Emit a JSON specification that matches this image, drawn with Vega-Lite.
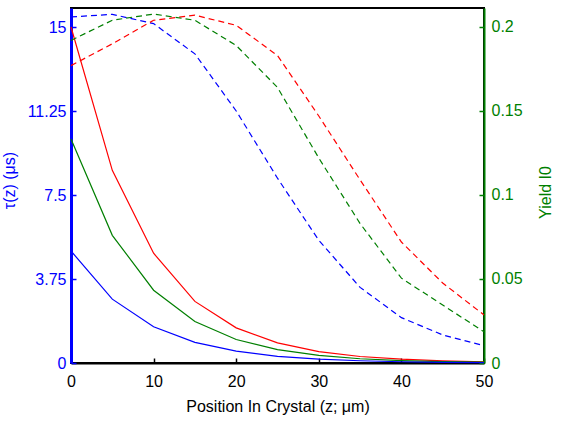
{
  "$schema": "https://vega.github.io/schema/vega-lite/v6.json",
  "autosize": "none",
  "width": 413,
  "height": 355,
  "padding": {"left": 71, "top": 8, "right": 77, "bottom": 59},
  "background": "white",
  "config": {
    "font": "Liberation Sans",
    "view": {"stroke": "black", "strokeWidth": 2},
    "axis": {"grid": false, "labelFontSize": 16, "titleFontSize": 16, "titleFontWeight": "normal", "tickSize": -5, "tickWidth": 1.5, "domainWidth": 2, "labelFlush": false, "labelOverlap": false}
  },
  "datasets": {
    "tau": [
      {"z": 0, "series": "red", "value": 15.0}, {"z": 5, "series": "red", "value": 8.6}, {"z": 10, "series": "red", "value": 4.9}, {"z": 15, "series": "red", "value": 2.75}, {"z": 20, "series": "red", "value": 1.57}, {"z": 25, "series": "red", "value": 0.9}, {"z": 30, "series": "red", "value": 0.51}, {"z": 35, "series": "red", "value": 0.29}, {"z": 40, "series": "red", "value": 0.17}, {"z": 45, "series": "red", "value": 0.095}, {"z": 50, "series": "red", "value": 0.054},
      {"z": 0, "series": "green", "value": 10.0}, {"z": 5, "series": "green", "value": 5.7}, {"z": 10, "series": "green", "value": 3.25}, {"z": 15, "series": "green", "value": 1.85}, {"z": 20, "series": "green", "value": 1.05}, {"z": 25, "series": "green", "value": 0.6}, {"z": 30, "series": "green", "value": 0.34}, {"z": 35, "series": "green", "value": 0.19}, {"z": 40, "series": "green", "value": 0.11}, {"z": 45, "series": "green", "value": 0.06}, {"z": 50, "series": "green", "value": 0.035},
      {"z": 0, "series": "blue", "value": 5.0}, {"z": 5, "series": "blue", "value": 2.85}, {"z": 10, "series": "blue", "value": 1.62}, {"z": 15, "series": "blue", "value": 0.92}, {"z": 20, "series": "blue", "value": 0.53}, {"z": 25, "series": "blue", "value": 0.3}, {"z": 30, "series": "blue", "value": 0.17}, {"z": 35, "series": "blue", "value": 0.1}, {"z": 40, "series": "blue", "value": 0.055}, {"z": 45, "series": "blue", "value": 0.03}, {"z": 50, "series": "blue", "value": 0.018}
    ],
    "yield": [
      {"z": 0, "series": "blue", "value": 0.206}, {"z": 5, "series": "blue", "value": 0.2075}, {"z": 10, "series": "blue", "value": 0.202}, {"z": 15, "series": "blue", "value": 0.184}, {"z": 20, "series": "blue", "value": 0.15}, {"z": 25, "series": "blue", "value": 0.11}, {"z": 30, "series": "blue", "value": 0.073}, {"z": 35, "series": "blue", "value": 0.045}, {"z": 40, "series": "blue", "value": 0.027}, {"z": 45, "series": "blue", "value": 0.0167}, {"z": 50, "series": "blue", "value": 0.0103},
      {"z": 0, "series": "red", "value": 0.177}, {"z": 5, "series": "red", "value": 0.19}, {"z": 10, "series": "red", "value": 0.204}, {"z": 15, "series": "red", "value": 0.207}, {"z": 20, "series": "red", "value": 0.201}, {"z": 25, "series": "red", "value": 0.183}, {"z": 30, "series": "red", "value": 0.147}, {"z": 35, "series": "red", "value": 0.109}, {"z": 40, "series": "red", "value": 0.072}, {"z": 45, "series": "red", "value": 0.0476}, {"z": 50, "series": "red", "value": 0.0286},
      {"z": 0, "series": "green", "value": 0.192}, {"z": 5, "series": "green", "value": 0.204}, {"z": 10, "series": "green", "value": 0.2077}, {"z": 15, "series": "green", "value": 0.204}, {"z": 20, "series": "green", "value": 0.189}, {"z": 25, "series": "green", "value": 0.164}, {"z": 30, "series": "green", "value": 0.122}, {"z": 35, "series": "green", "value": 0.083}, {"z": 40, "series": "green", "value": 0.0505}, {"z": 45, "series": "green", "value": 0.0345}, {"z": 50, "series": "green", "value": 0.0186}
    ]
  },
  "layer": [
    {
      "data": {"name": "tau"},
      "mark": {"type": "line", "strokeWidth": 1.2},
      "encoding": {
        "x": {"field": "z", "type": "quantitative", "scale": {"domain": [0, 50], "nice": false},
          "axis": {"values": [0, 10, 20, 30, 40, 50], "format": "d", "title": "Position In Crystal (z; μm)", "labelColor": "black", "titleColor": "black", "domainColor": "black", "tickColor": "black", "labelPadding": 15, "titlePadding": 9}},
        "y": {"field": "value", "type": "quantitative", "scale": {"domain": [0, 15.85], "nice": false, "zero": true},
          "axis": {"orient": "left", "values": [0, 3.75, 7.5, 11.25, 15], "labelExpr": "datum.value + ''", "title": "τ(z) (μs)", "labelColor": "#0000ff", "titleColor": "#0000ff", "domainColor": "#0000ff", "tickColor": "#0000ff", "domainWidth": 3, "labelPadding": 10, "titleX": -62, "titleY": 172, "titleAngle": -90, "titleAlign": "center", "titleBaseline": "middle"}},
        "color": {"field": "series", "type": "nominal", "scale": {"domain": ["blue", "green", "red"], "range": ["#0000ff", "#007f00", "#ff0000"]}, "legend": null}
      }
    },
    {
      "data": {"name": "yield"},
      "mark": {"type": "line", "strokeDash": [6, 4], "strokeWidth": 1.2},
      "encoding": {
        "x": {"field": "z", "type": "quantitative", "scale": {"domain": [0, 50], "nice": false}},
        "y": {"field": "value", "type": "quantitative", "scale": {"domain": [0, 0.2113], "nice": false, "zero": true},
          "axis": {"orient": "right", "values": [0, 0.05, 0.1, 0.15, 0.2], "labelExpr": "datum.value + ''", "title": "Yield I0", "labelColor": "#007f00", "titleColor": "#007f00", "domainColor": "#007f00", "tickColor": "#007f00", "labelPadding": 12, "titleX": 61, "titleY": 184, "titleAngle": -90, "titleAlign": "center", "titleBaseline": "middle"}},
        "color": {"field": "series", "type": "nominal", "scale": {"domain": ["blue", "green", "red"], "range": ["#0000ff", "#007f00", "#ff0000"]}, "legend": null},
        "strokeWidth": {"condition": {"test": "datum.series === 'blue'", "value": 1.7}, "value": 1.2}
      }
    }
  ],
  "resolve": {"scale": {"y": "independent"}}
}
